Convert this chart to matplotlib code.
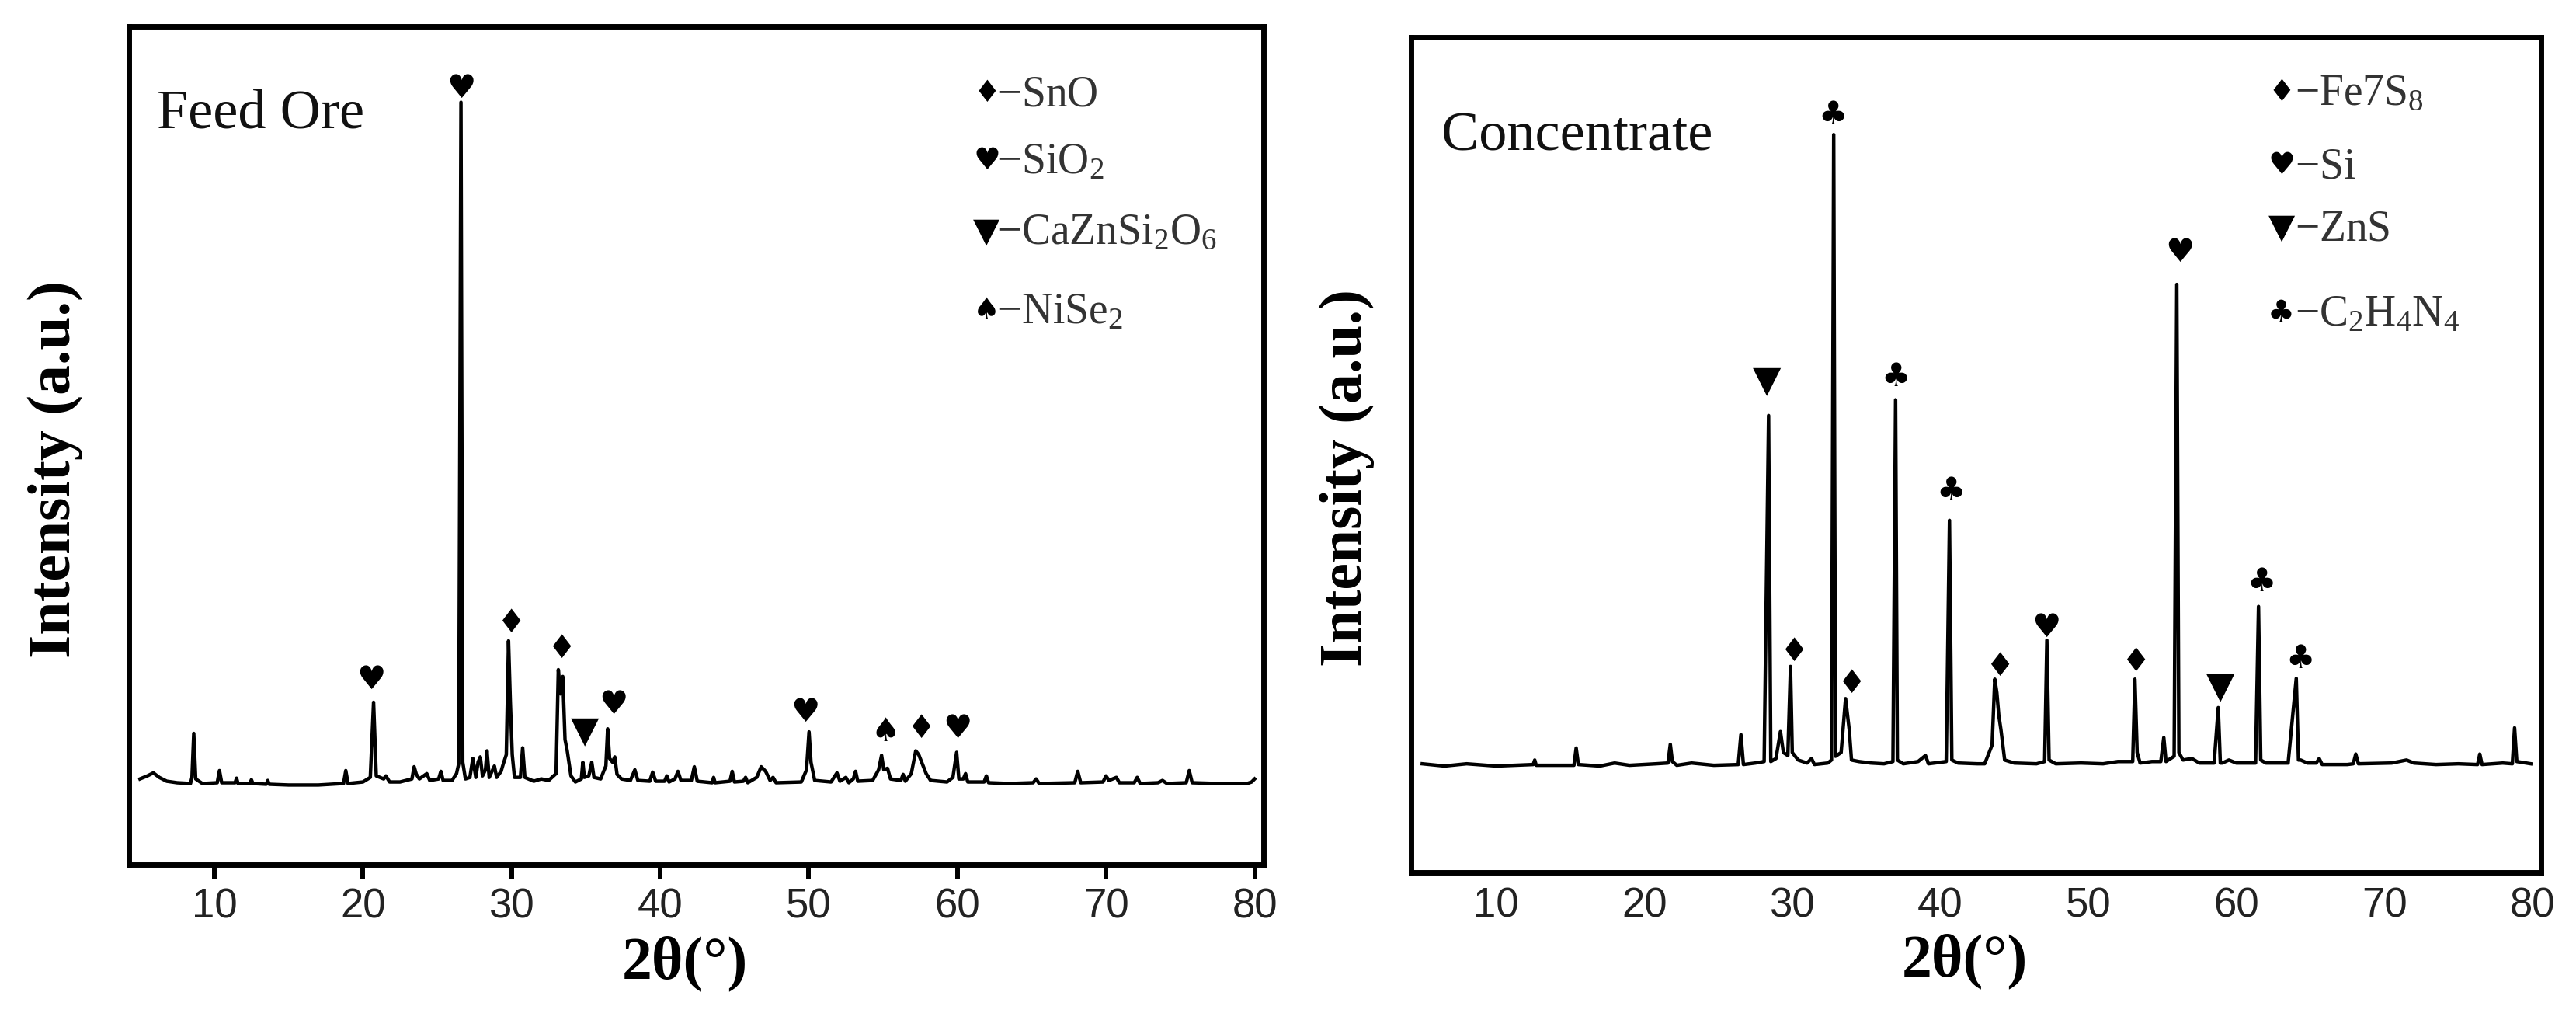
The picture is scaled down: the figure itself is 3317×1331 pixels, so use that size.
import matplotlib
matplotlib.use("Agg")
import matplotlib.pyplot as plt

plt.rcParams['mathtext.fontset'] = 'custom'
plt.rcParams['mathtext.rm'] = 'Liberation Serif'
plt.rcParams['mathtext.it'] = 'Liberation Serif:italic'
plt.rcParams['mathtext.bf'] = 'Liberation Serif:bold'

# ---- Feed Ore pattern (2theta, intensity) ----
feed_x = [5.0, 5.5, 5.9, 6.3, 6.8, 7.5, 8.4, 8.5, 8.62, 8.75, 9.2, 10.2, 10.35, 10.5,
          11.4, 11.5, 11.6, 12.4, 12.5, 12.6, 13.5, 13.6, 13.7, 15.0, 17.0, 18.7, 18.85, 19.0,
          20.0, 20.5, 20.72, 20.9, 21.4, 21.55, 21.8, 22.5, 23.3, 23.45, 23.6, 23.8, 24.3, 24.5,
          25.1, 25.25, 25.4, 26.0, 26.3, 26.45, 26.6, 26.72, 26.9, 27.2, 27.4, 27.6, 27.75, 27.9,
          28.05, 28.25, 28.35, 28.5, 28.85, 29.0, 29.3, 29.45, 29.65, 29.8, 29.92, 30.05, 30.2,
          30.6, 30.75, 30.9, 31.5, 32.0, 32.5, 33.0, 33.15, 33.3, 33.45, 33.6, 33.75, 34.0, 34.3,
          34.7, 34.8, 34.9, 35.2, 35.4, 35.55, 36.0, 36.2, 36.35, 36.47, 36.6, 36.8, 36.95, 37.1,
          37.4, 38.0, 38.3, 38.5, 39.3, 39.5, 39.7, 40.3, 40.45, 40.6, 41.0, 41.2, 41.4, 42.1,
          42.3, 42.5, 43.5, 43.6, 43.7, 44.7, 44.85, 45.0, 45.6, 45.75, 45.9, 46.5, 46.8, 47.1,
          47.4, 47.6, 47.8, 49.5, 49.85, 50.02, 50.15, 50.4, 51.5, 51.9, 52.1, 52.5, 52.7, 53.0,
          53.15, 53.3, 54.3, 54.7, 54.9, 55.05, 55.3, 55.5, 56.2, 56.35, 56.5, 56.9, 57.2, 57.4,
          57.6, 57.9, 58.2, 59.3, 59.7, 59.95, 60.1, 60.4, 60.55, 60.7, 61.8, 61.95, 62.1, 63.5,
          65.1, 65.3, 65.5, 67.9, 68.1, 68.3, 69.8, 70.0, 70.2, 70.7, 70.9, 71.9, 72.1, 72.3,
          73.5, 73.8, 74.1, 75.4, 75.6, 75.8, 77.5, 79.5, 79.8, 80.0]
feed_y = [8, 12, 16, 10, 5, 3, 2, 10, 68, 8, 2, 3, 19, 3,
          3, 9, 2, 2, 7, 2, 1, 6, 1, 0, 0, 2, 19, 2,
          4, 10, 109, 12, 8, 12, 4, 4, 8, 24, 14, 8, 15, 6,
          8, 18, 6, 6, 15, 28, 900, 30, 8, 10, 35, 10, 30, 37,
          12, 20, 45, 10, 25, 10, 18, 28, 40, 190, 110, 40, 10,
          10, 49, 10, 5, 8, 6, 15, 152, 120, 143, 60, 45, 12, 4,
          8, 30, 10, 12, 30, 10, 8, 18, 25, 74, 35, 30, 37, 14,
          8, 6, 20, 6, 5, 17, 5, 5, 12, 4, 8, 18, 6, 6,
          24, 5, 3, 10, 3, 5, 18, 4, 5, 10, 3, 10, 24, 18,
          6, 10, 3, 4, 20, 70, 30, 6, 4, 16, 5, 10, 3, 8,
          18, 5, 6, 20, 39, 20, 22, 8, 6, 14, 5, 15, 45, 40,
          30, 15, 6, 4, 10, 43, 8, 8, 15, 4, 4, 12, 3, 2,
          3, 8, 2, 3, 18, 3, 4, 12, 6, 10, 3, 3, 10, 2,
          3, 6, 2, 3, 19, 3, 2, 2, 4, 8]

# ---- Concentrate pattern ----
conc_x = [5.0, 6.5, 8.0, 10.0, 12.5, 12.6, 12.7, 14.0, 15.25, 15.4, 15.55, 17.0, 18.0, 19.0,
          20.8, 21.6, 21.76, 21.9, 22.2, 23.2, 24.7, 26.35, 26.53, 26.7, 27.5, 28.1, 28.4, 28.55,
          28.9, 29.2, 29.4, 29.7, 29.88, 30.0, 30.4, 31.0, 31.3, 31.5, 32.4, 32.65, 32.8, 32.92,
          33.3, 33.6, 33.85, 34.0, 34.5, 35.3, 36.2, 36.8, 36.98, 37.1, 37.5, 38.5, 39.0, 39.2,
          40.4, 40.62, 40.78, 41.2, 42.5, 43.0, 43.5, 43.68, 43.82, 43.95, 44.1, 44.35, 45.0, 46.5,
          47.05, 47.2, 47.35, 47.8, 49.5, 51.0, 52.0, 53.0, 53.15, 53.3, 53.5, 54.3, 54.9, 55.1,
          55.25, 55.8, 55.98, 56.12, 56.4, 57.0, 57.5, 58.5, 58.78, 58.92, 59.05, 59.5, 60.0, 61.3,
          61.5, 61.65, 62.0, 63.5, 64.05, 64.2, 64.35, 64.8, 65.4, 65.6, 65.8, 67.5, 67.9, 68.07,
          68.25, 70.5, 71.5, 72.0, 73.5, 75.0, 76.3, 76.45, 76.6, 78.0, 78.65, 78.8, 78.95, 79.9]
conc_y = [5, 2, 5, 2, 4, 10, 3, 3, 3, 26, 4, 2, 6, 3,
          5, 6, 31, 8, 3, 6, 3, 4, 44, 4, 6, 8, 470, 8,
          12, 48, 20, 16, 135, 20, 10, 6, 12, 4, 6, 10, 845, 15,
          20, 92, 50, 10, 8, 6, 5, 8, 491, 10, 5, 8, 16, 5,
          8, 330, 10, 6, 5, 5, 30, 118, 100, 70, 50, 10, 6, 5,
          8, 170, 10, 5, 6, 5, 8, 8, 118, 20, 6, 8, 8, 40,
          8, 15, 645, 20, 10, 12, 6, 6, 80, 6, 6, 10, 6, 6,
          215, 10, 6, 6, 119, 10, 10, 6, 6, 12, 4, 4, 5, 18,
          5, 6, 10, 6, 4, 5, 4, 18, 4, 6, 5, 53, 8, 5]

# phase markers: (glyph, 2theta, height)
feed_marks = [("\u2665", 20.55, 139), ("\u2665", 26.6, 918), ("\u2666", 30.0, 213),
              ("\u2666", 33.4, 180), ("\u25BC", 34.95, 70), ("\u2665", 36.85, 106),
              ("\u2665", 49.75, 96), ("\u2660", 55.15, 70), ("\u2666", 57.6, 74),
              ("\u2665", 60.0, 74)]
conc_marks = [("\u25BC", 28.3, 516), ("\u2666", 30.15, 154), ("\u2663", 32.75, 871),
              ("\u2666", 34.05, 112), ("\u2663", 37.0, 522), ("\u2663", 40.7, 369),
              ("\u2666", 44.05, 135), ("\u2665", 47.15, 187), ("\u2666", 53.25, 141),
              ("\u2665", 56.2, 688), ("\u25BC", 58.9, 107), ("\u2663", 61.7, 248),
              ("\u2663", 64.35, 145)]

feed_legend = [("\u2666", r"$\mathrm{-SnO}$"), ("\u2665", r"$\mathrm{-SiO_2}$"),
               ("\u25BC", r"$\mathrm{-CaZnSi_2O_6}$"), ("\u2660", r"$\mathrm{-NiSe_2}$")]
conc_legend = [("\u2666", r"$\mathrm{-Fe7S_8}$"), ("\u2665", r"$\mathrm{-Si}$"),
               ("\u25BC", r"$\mathrm{-ZnS}$"), ("\u2663", r"$\mathrm{-C_2H_4N_4}$")]

xticks = [10, 20, 30, 40, 50, 60, 70, 80]

fig = plt.figure(figsize=(33.17, 13.31), dpi=100)
ax1 = fig.add_axes([0.0500, 0.1638, 0.4405, 0.8107])
ax2 = fig.add_axes([0.5478, 0.1563, 0.4387, 0.8077])

label_font = dict(family='Liberation Serif', fontweight='bold', fontsize=56)


def style(ax, title, tx, ty, ylim, ticklen, pad, xlab_y, ylab_x):
    ax.set_xlim(4.25, 80.6)
    ax.set_ylim(*ylim)
    for s in ax.spines.values():
        s.set_linewidth(5)
    ax.set_yticks([])
    ax.set_xticks(xticks)
    ax.tick_params(axis='x', direction='out', length=ticklen, width=4.3, pad=pad,
                   labelsize=38, labelcolor='#222222')
    for lab in ax.get_xticklabels():
        lab.set_family('Liberation Sans')
    ax.set_xlabel("2\u03b8(\u00b0)", **label_font)
    ax.set_ylabel("Intensity (a.u.)", **label_font)
    ax.xaxis.set_label_coords(0.49, xlab_y)
    ax.yaxis.set_label_coords(ylab_x, 0.472)
    ax.text(tx, ty, title, transform=ax.transAxes, family='Liberation Serif',
            fontsize=52, color='#111111')


style(ax1, "Feed Ore", 0.025, 0.878, (-105, 1000), 14, 7, -0.085, -0.040)
style(ax2, "Concentrate", 0.027, 0.865, (-140, 975), 0, 13, -0.073, -0.032)

ax1.plot(feed_x, feed_y, color='black', lw=3.2, solid_joinstyle='round')
ax2.plot(conc_x, conc_y, color='black', lw=3.2, solid_joinstyle='round')

for ax, marks in ((ax1, feed_marks), (ax2, conc_marks)):
    for g, x, y in marks:
        size = 34 if g == "\u25BC" else 30
        ax.text(x, y, g, family='DejaVu Sans', fontsize=size, ha='center', va='center')

for ax, items, mx, tx, ys in ((ax1, feed_legend, 0.756, 0.765, [0.905, 0.825, 0.740, 0.646]),
                              (ax2, conc_legend, 0.770, 0.782, [0.919, 0.831, 0.757, 0.655])):
    for (g, lab), y in zip(items, ys):
        size = 32 if g == "\u25BC" else 28
        ax.text(mx, y + 0.015, g, transform=ax.transAxes, family='DejaVu Sans',
                fontsize=size, ha='center', va='center')
        ax.text(tx, y, lab, transform=ax.transAxes, fontsize=40, color='#333333',
                ha='left', va='baseline')

fig.savefig("out.png", dpi=100, facecolor='white')
